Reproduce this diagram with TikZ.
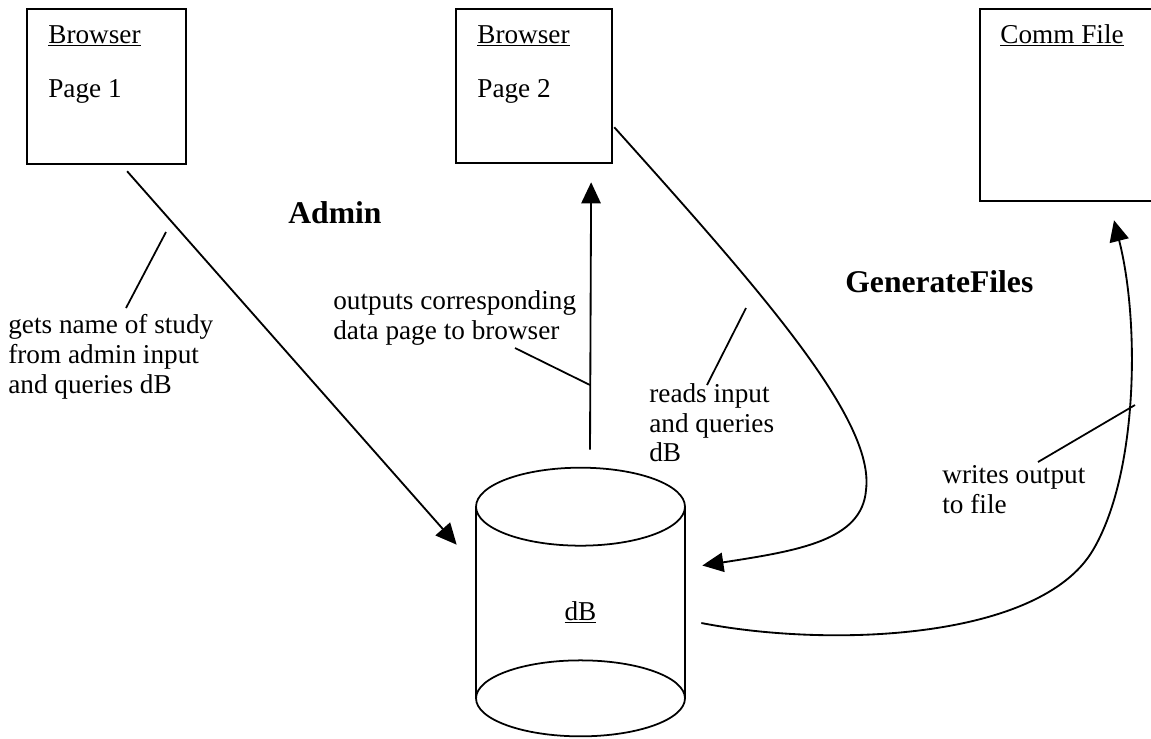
\documentclass[tikz,border=0pt]{standalone}
\usepackage{fontspec}
\setmainfont{Liberation Serif}
\usetikzlibrary{positioning,arrows.meta,calc}

\begin{document}
\begin{tikzpicture}[
  x=0.02cm, y=-0.02cm,
  pagebox/.style = {rectangle, draw, line width=1.3pt, anchor=north west, inner sep=0pt},
  boxtext/.style = {font=\fontsize{15.5}{17}\selectfont, inner sep=0pt},
  lbl/.style     = {font=\fontsize{15.5}{17}\selectfont, align=left, anchor=north west, inner sep=0pt},
  area/.style    = {font=\fontsize{18}{21}\selectfont\bfseries, anchor=west, inner sep=0pt},
  dbbody/.style  = {rectangle, draw=none, minimum width=4.18cm, minimum height=3.82cm, inner sep=0pt},
  dbline/.style  = {line width=1pt},
  arr/.style     = {-{Triangle[length=12pt,width=11pt]}, line width=1.05pt},
  lead/.style    = {line width=1pt}
]
\useasboundingbox (0,0) rectangle (1151,738);

% the three pages
\node[pagebox, minimum width=3.18cm, minimum height=3.1cm] (page1) at (26,8) {};
\node[pagebox, minimum width=3.12cm, minimum height=3.08cm] (page2) at (455,8) {};
\node[pagebox, minimum width=3.5cm, minimum height=3.84cm] (commfile) at (979,8) {};

\node[boxtext, anchor=base west] (page1title) at ($(page1.north west)+(22,35)$) {\underline{Browser}};
\node[boxtext, anchor=base west] (page1name)  at ($(page1title.base west)+(0,54)$) {Page 1};
\node[boxtext, anchor=base west] (page2title) at ($(page2.north west)+(22,35)$) {\underline{Browser}};
\node[boxtext, anchor=base west] (page2name)  at ($(page2title.base west)+(0,54)$) {Page 2};
\node[boxtext, anchor=base west] (commtitle)  at ($(commfile.north west)+(21,35)$) {\underline{Comm File}};

% database cylinder
\node[dbbody] (db) at (580.5,602.5) {};
\draw[dbline] (db.north west) -- (db.south west) (db.north east) -- (db.south east);
\draw[dbline] (db.north) ellipse [x radius=2.09cm, y radius=0.78cm];
\draw[dbline] (db.south) ellipse [x radius=2.09cm, y radius=0.76cm];
\node[boxtext] (dbname) at ($(db.center)+(0,10)$) {\underline{dB}};

% section titles
\node[area] (admin) at (288,213) {Admin};
\node[area] (genfiles) at (845,282) {GenerateFiles};

% connectors
\draw[arr] ($(page1.south)+(20.5,6)$) -- ($(db.north west)+(-19,38)$);
\draw[arr] ($(db.north)+(9.5,-57)$) -- ($(page2.south)+(57,18)$);
\draw[arr] ($(page2.south east)+(1,-37)$) .. controls +(148,165) and +(9,-70) .. (866,490)
           .. controls +(-4,50) and +(98,-15) .. ($(db.east)+(17,-37)$);
\draw[arr] ($(db.east)+(16,20.5)$) .. controls +(129,25) and +(-53,90) .. (1093,550)
           .. controls +(45,-76) and +(26,102) .. ($(commfile.south west)+(135,18)$);

% labels
\node[lbl] (getsname) at (8,314) {gets name of study\\from admin input\\and queries dB};
\node[lbl] (outputs) at (333,290) {outputs corresponding\\data page to browser};
\node[lbl] (reads) at (649,383) {reads input\\and queries\\dB};
\node[lbl] (writes) at (942,465) {writes output\\to file};

\draw[lead] (126,308) -- (166,232);
\draw[lead] (515,348) -- (590,385);
\draw[lead] (707,385) -- (746,308);
\draw[lead] (1038,462) -- (1135,405);
\end{tikzpicture}
\end{document}
